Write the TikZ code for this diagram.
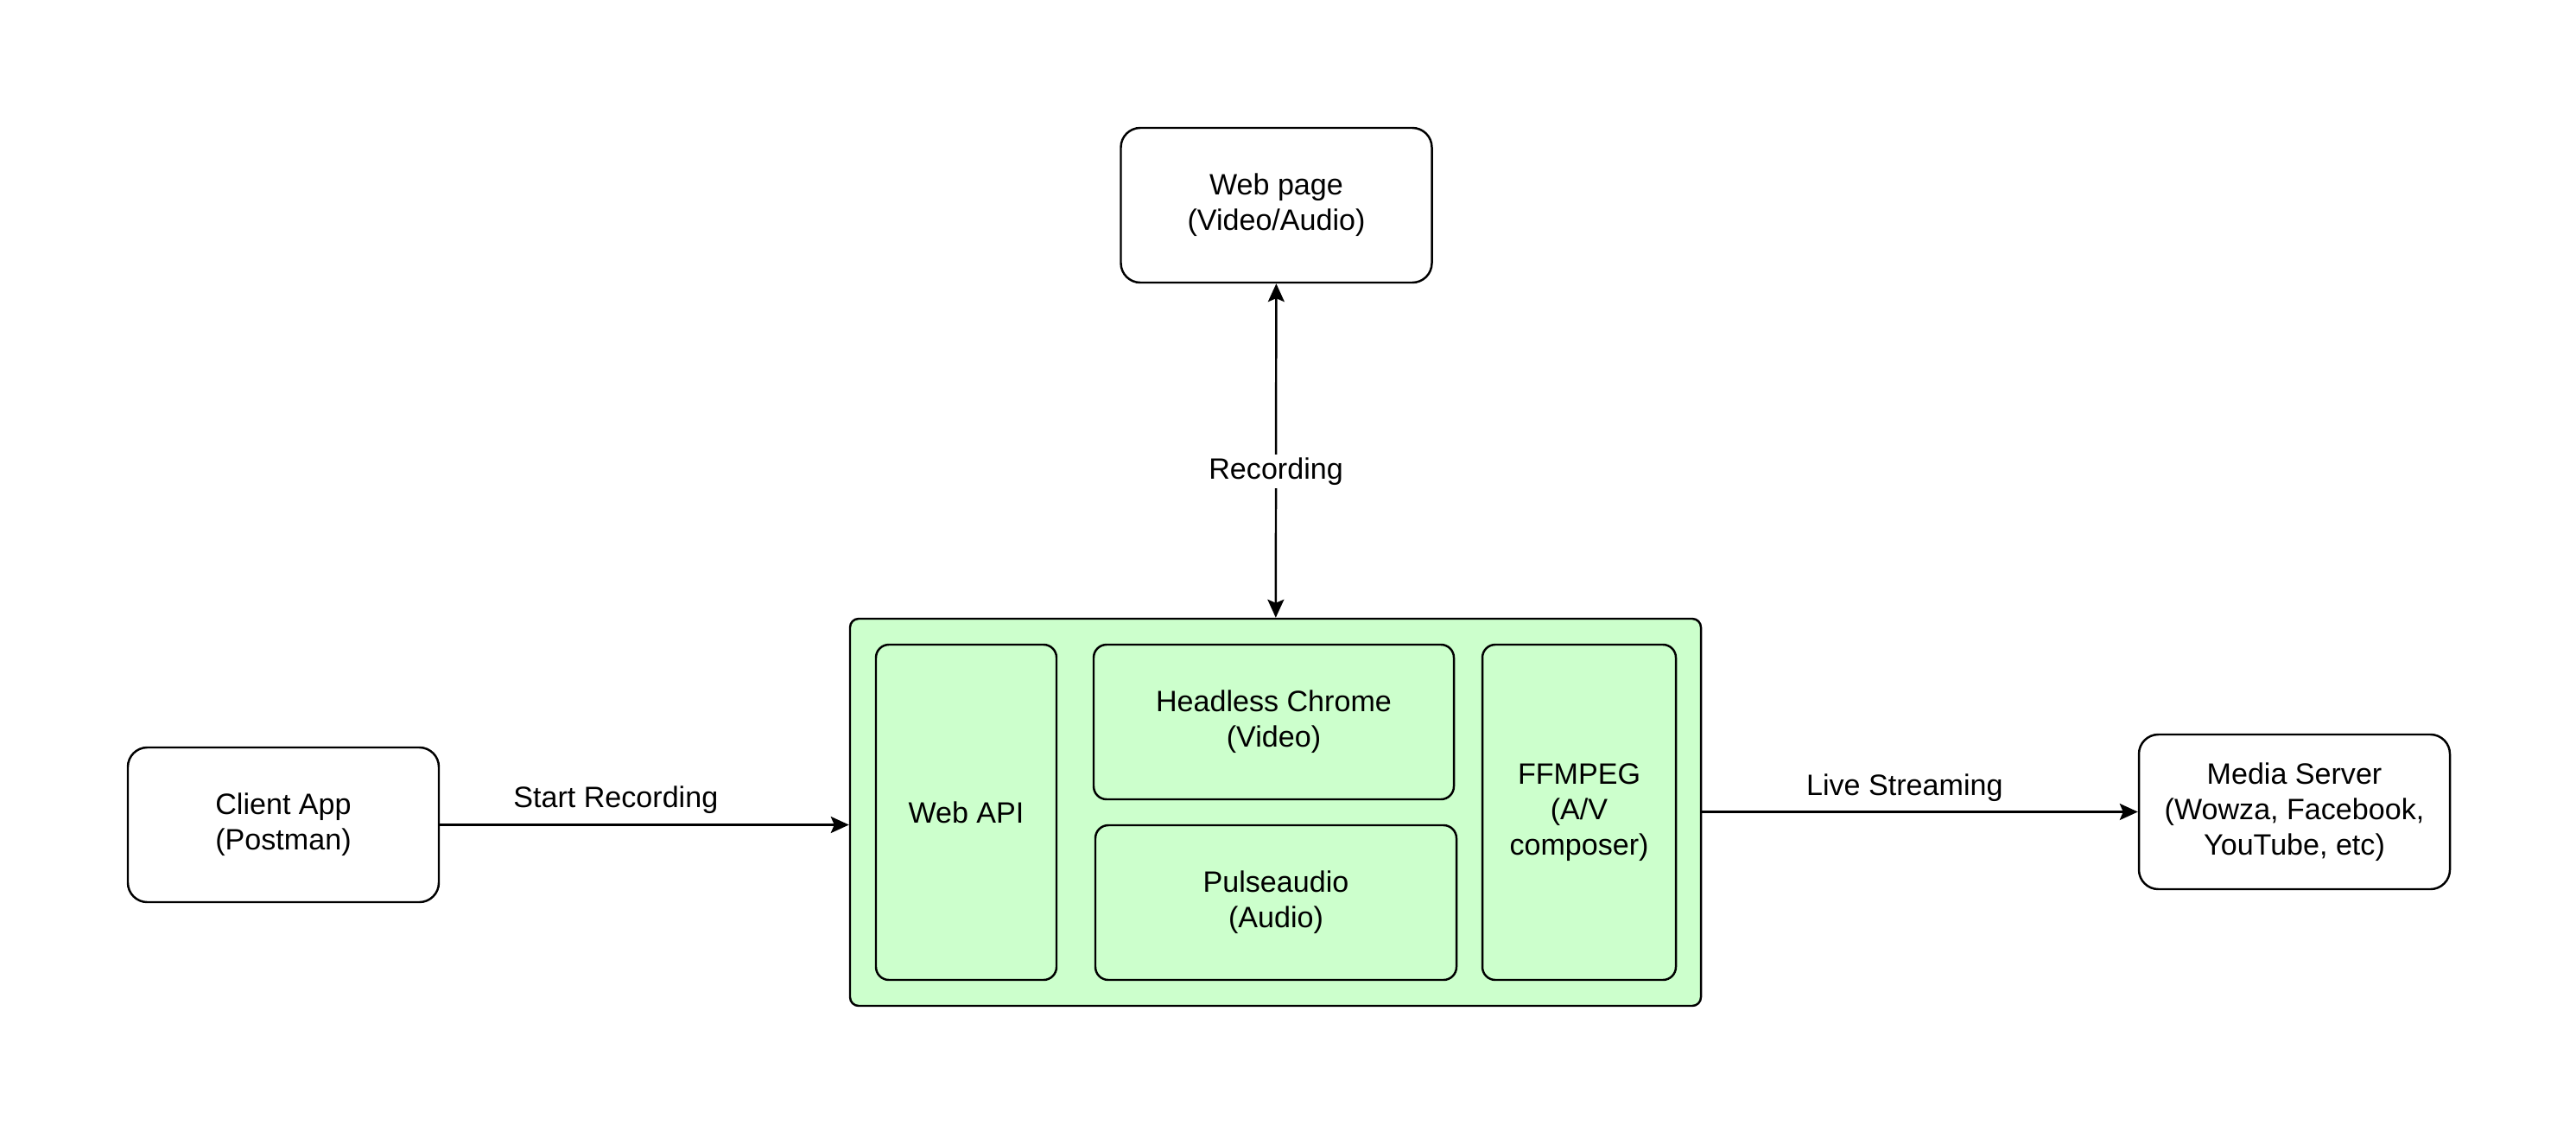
\documentclass[tikz,border=0pt]{standalone}
\usepackage{fontspec}
\setmainfont{Liberation Sans}
\usetikzlibrary{arrows.meta,positioning}
\definecolor{boxgreen}{HTML}{CCFFCC}

\begin{document}
\begin{tikzpicture}[font=\fontsize{19.4}{23.3}\selectfont,
      s/.style={draw,line width=1.4pt,rounded corners=.45cm,align=center,
        minimum width=7.2cm,minimum height=3.58cm,inner sep=0pt},
      g/.style={draw,line width=1.4pt,rounded corners=.3cm,align=center,
        fill=boxgreen,minimum height=3.58cm,inner sep=0pt},
      tip/.tip={Stealth[length=.42cm,width=.38cm,inset=.08cm]},
      a/.style={-tip,line width=1.4pt}]
      \useasboundingbox (0,0) rectangle (59.64,-26.18);
      \node[s] (webpage) at (29.55,-4.75) {Web page\\(Video/Audio)};
      \node[s] (client) at (6.56,-19.09) {Client App\\(Postman)};
      \node[s] (media) at (53.12,-18.79)
        {Media Server\\(Wowza, Facebook,\\YouTube, etc)};
      \node[g,rounded corners=.2cm,minimum width=19.7cm,minimum height=8.96cm]
        (main) at (29.53,-18.8) {};
      \node[g,minimum width=4.18cm,minimum height=7.76cm] (webapi)
        at (22.37,-18.8) {Web API};
      \node[g,minimum width=8.34cm] (chrome) at (29.49,-16.71)
        {Headless Chrome\\(Video)};
      \node[g,minimum width=8.36cm] (pulse) at (29.54,-20.89)
        {Pulseaudio\\(Audio)};
      \node[g,minimum width=4.48cm,minimum height=7.76cm] (ffmpeg)
        at (36.56,-18.8) {FFMPEG\\(A/V\\composer)};
      \draw[a] (client.east) -- (client.east -| main.west)
        node[pos=.43,above=.12cm] {Start Recording};
      \draw[a] (main.east |- media.west) -- (media.west)
        node[pos=.465,above=.1cm] {Live Streaming};
      \draw[a,tip-tip] (main) -- (webpage)
        node[pos=.437,fill=white,inner sep=2pt] {Recording};
    \end{tikzpicture}
\end{document}
